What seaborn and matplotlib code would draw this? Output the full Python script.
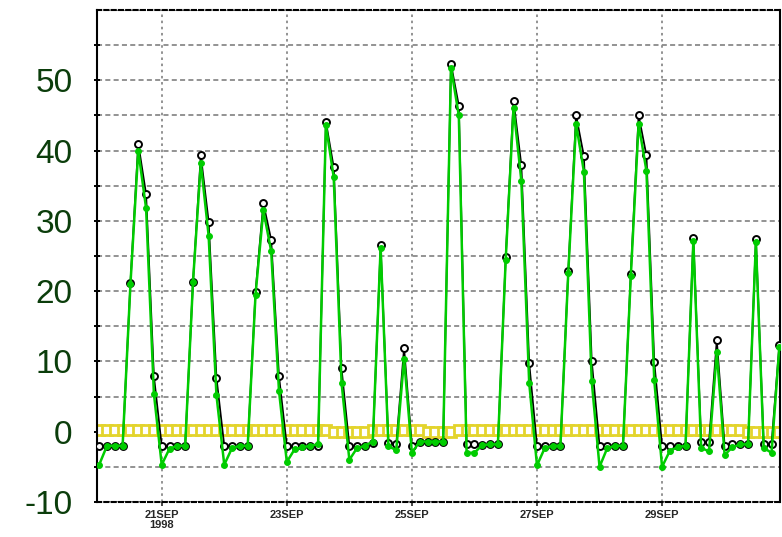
import pandas as pd
import matplotlib.pyplot as plt
import seaborn as sns

# ===== data: 3-hourly samples from 20SEP 1998 00:00 =====
start = "1998-09-20 00:00"
n_points = 88

black_vals = [
    -2.0, -2.0, -2.0, -2.0, 21.2, 41.0, 33.8, 7.9,
    -2.0, -2.0, -2.0, -2.0, 21.3, 39.3, 29.9, 7.7,
    -2.0, -2.0, -2.0, -2.0, 19.9, 32.5, 27.3, 7.9,
    -2.0, -2.0, -2.0, -2.0, -2.0, 44.1, 37.6, 9.0,
    -2.0, -2.0, -2.0, -1.6, 26.5, -1.6, -1.8, 11.9,
    -2.0, -1.4, -1.4, -1.4, -1.4, 52.3, 46.4, -1.8,
    -1.8, -1.9, -1.8, -1.8, 24.8, 47.1, 37.9, 9.8,
    -2.0, -2.0, -2.0, -2.0, 22.8, 45.0, 39.2, 10.1,
    -2.0, -2.0, -2.0, -2.0, 22.5, 45.0, 39.3, 9.9,
    -2.0, -2.0, -2.0, -2.0, 27.5, -1.5, -1.5, 13.0,
    -2.0, -1.8, -1.8, -1.8, 27.4, -1.8, -1.8, 12.4,
]
green_vals = [
    -4.7, -2.0, -2.0, -2.0, 21.0, 40.0, 31.8, 5.4,
    -4.7, -2.4, -2.0, -2.0, 21.3, 38.2, 27.9, 5.2,
    -4.7, -2.3, -2.0, -2.0, 19.5, 31.5, 25.7, 5.8,
    -4.3, -2.5, -2.2, -2.0, -1.8, 43.6, 36.2, 7.0,
    -4.0, -2.3, -2.0, -1.4, 26.2, -2.1, -2.6, 10.4,
    -3.0, -1.4, -1.4, -1.4, -1.4, 51.8, 45.0, -3.0,
    -3.0, -1.9, -1.8, -1.8, 24.5, 46.1, 35.7, 7.0,
    -4.8, -2.3, -2.0, -2.0, 22.6, 43.8, 37.0, 7.2,
    -5.0, -2.3, -2.0, -2.0, 22.1, 43.8, 37.1, 7.3,
    -5.0, -2.7, -2.2, -2.0, 27.1, -2.3, -2.8, 11.3,
    -3.3, -2.2, -1.8, -1.8, 27.0, -2.3, -3.0, 12.0,
]
yellow_vals = [
    0.2, 0.2, 0.2, 0.2, 0.2, 0.2, 0.2, 0.2,
    0.2, 0.2, 0.2, 0.2, 0.2, 0.2, 0.2, 0.2,
    0.2, 0.2, 0.2, 0.2, 0.2, 0.2, 0.2, 0.2,
    0.2, 0.2, 0.2, 0.2, 0.2, 0.2, -0.1, -0.1,
    -0.1, -0.1, -0.1, 0.2, 0.2, 0.2, 0.2, 0.2,
    0.2, 0.2, -0.1, -0.1, -0.1, -0.1, 0.2, 0.2,
    0.2, 0.2, 0.2, 0.2, 0.2, 0.2, 0.2, 0.2,
    0.2, 0.2, 0.2, 0.2, 0.2, 0.2, 0.2, 0.2,
    0.2, 0.2, 0.2, 0.2, 0.2, 0.2, 0.2, 0.2,
    0.2, 0.2, 0.2, 0.2, 0.2, 0.2, 0.2, 0.2,
    0.2, 0.2, 0.2, -0.1, -0.1, -0.1, -0.1, -0.1,
]

tick_dates = ["1998-09-21", "1998-09-23", "1998-09-25", "1998-09-27", "1998-09-29"]
tick_labels = ["21SEP\n1998", "23SEP", "25SEP", "27SEP", "29SEP"]
y_ticks = [-10, 0, 10, 20, 30, 40, 50]

times = pd.date_range(start, periods=n_points, freq="3h")
df = pd.DataFrame({"time": times, "black": black_vals,
                   "green": green_vals, "yellow": yellow_vals})

# ===== style =====
sns.set_style("white")
plt.rcParams["font.family"] = ["Liberation Sans", "DejaVu Sans"]

fig = plt.figure(figsize=(7.82, 5.37), dpi=100)
ax = fig.add_axes([97 / 782, 35 / 537, 683 / 782, 492 / 537])

# grid
for yv in range(-10, 61, 5):
    ax.axhline(yv, color="#8a8a8a", lw=1.3, ls=(0, (2.8, 1.8)), zorder=0)
for d in tick_dates:
    ax.axvline(pd.Timestamp(d), color="#8a8a8a", lw=1.3, ls=(0, (1.4, 2.0)), zorder=0)

# series
sns.lineplot(data=df, x="time", y="yellow", ax=ax, color="#e3d42c", lw=2.8,
             marker="s", markersize=6.5, markerfacecolor="white",
             markeredgecolor="#e3d42c", markeredgewidth=2.0, zorder=2)
sns.lineplot(data=df, x="time", y="black", ax=ax, color="black", lw=1.3,
             marker="o", markersize=5, markerfacecolor="white",
             markeredgecolor="black", markeredgewidth=1.4, zorder=3)
sns.lineplot(data=df, x="time", y="green", ax=ax, color="#00cc00", lw=1.8,
             marker="o", markersize=4.2, markerfacecolor="#00cc00",
             markeredgecolor="#00cc00", zorder=4)

# axes
ax.set_xlim(pd.Timestamp("1998-09-19 23:10"), pd.Timestamp("1998-09-30 21:15"))
ax.set_ylim(-10, 60)
ax.set_xlabel("")
ax.set_ylabel("")

ax.set_xticks([pd.Timestamp(d) for d in tick_dates])
ax.set_xticklabels(tick_labels, fontsize=8, fontweight="bold", linespacing=0.95)
ax.set_yticks(y_ticks)
ax.set_yticklabels([str(v) for v in y_ticks], fontsize=24, color="#0b3d0b")
ax.set_yticks(range(-5, 60, 10), minor=True)
ax.tick_params(axis="y", which="both", direction="inout", length=5, width=1.4,
               color="black", pad=15, left=True)
ax.tick_params(axis="x", direction="out", length=3, width=1.2, pad=3, bottom=True)

for side in ["left", "right"]:
    ax.spines[side].set_color("black")
    ax.spines[side].set_linewidth(1.5)
for side in ["top", "bottom"]:
    ax.spines[side].set_color("black")
    ax.spines[side].set_linewidth(1.5)
    ax.spines[side].set_linestyle((0, (2.0, 1.5)))

plt.savefig("out.png", dpi=100)
plt.close()
